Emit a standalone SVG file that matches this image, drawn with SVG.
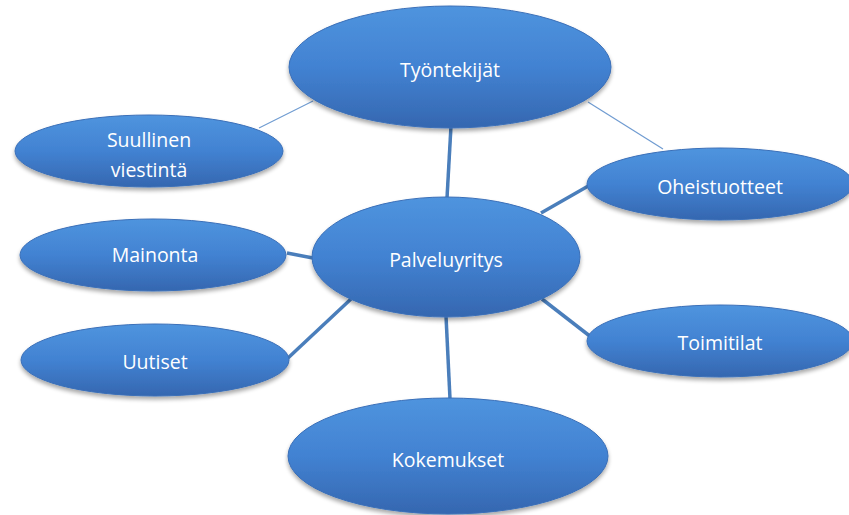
<svg xmlns="http://www.w3.org/2000/svg" width="849" height="515" viewBox="0 0 849 515">
<defs>
<linearGradient id="g" x1="0" y1="0" x2="0" y2="1">
<stop offset="0" stop-color="#4f94de"/>
<stop offset="0.5" stop-color="#4282d2"/>
<stop offset="1" stop-color="#3567b0"/>
</linearGradient>
<filter id="sh" x="-10%" y="-10%" width="120%" height="130%">
<feGaussianBlur in="SourceAlpha" stdDeviation="2"/>
<feOffset dx="0" dy="3" result="b"/>
<feComponentTransfer><feFuncA type="linear" slope="0.35"/></feComponentTransfer>
<feMerge><feMergeNode/><feMergeNode in="SourceGraphic"/></feMerge>
</filter>
</defs>
<style>
.n{fill:url(#g);stroke:#3a6fb8;stroke-width:1;filter:url(#sh)}
.t{fill:#ffffff;font-family:"Open Sans","Liberation Sans",sans-serif;font-size:19.5px;text-anchor:middle;dominant-baseline:central}
.thick{stroke:#4a7ebb;stroke-width:3.5;fill:none}
.thin{stroke:#6f9bd1;stroke-width:1.2;fill:none}
</style>
<rect width="849" height="515" fill="#ffffff"/>
<g id="connectors">
<line class="thin" x1="313" y1="101" x2="259" y2="128"/>
<line class="thin" x1="588" y1="102" x2="663" y2="149"/>
<line class="thick" x1="451" y1="126" x2="447" y2="198"/>
<line class="thick" x1="541" y1="213" x2="590" y2="185"/>
<line class="thick" x1="313" y1="258" x2="287" y2="253"/>
<line class="thick" x1="351" y1="299" x2="288" y2="358"/>
<line class="thick" x1="542" y1="299" x2="591" y2="337"/>
<line class="thick" x1="446" y1="316" x2="450" y2="399"/>
</g>
<g id="tyontekijat">
<ellipse class="n" cx="450" cy="67" rx="161" ry="61"/>
<text class="t" x="450" y="69">Työntekijät</text>
</g>
<g id="suullinen">
<ellipse class="n" cx="149" cy="151" rx="134" ry="36"/>
<text class="t" x="149" y="139">Suullinen</text>
<text class="t" x="149" y="169">viestintä</text>
</g>
<g id="oheistuotteet">
<ellipse class="n" cx="720" cy="184" rx="133" ry="36"/>
<text class="t" x="720" y="186">Oheistuotteet</text>
</g>
<g id="mainonta">
<ellipse class="n" cx="153" cy="255" rx="133" ry="36"/>
<text class="t" x="155" y="254">Mainonta</text>
</g>
<g id="palveluyritys">
<ellipse class="n" cx="446" cy="257" rx="134" ry="60"/>
<text class="t" x="446" y="259">Palveluyritys</text>
</g>
<g id="uutiset">
<ellipse class="n" cx="155" cy="360" rx="134" ry="36"/>
<text class="t" x="155" y="361">Uutiset</text>
</g>
<g id="toimitilat">
<ellipse class="n" cx="720" cy="341" rx="133" ry="36"/>
<text class="t" x="720" y="342">Toimitilat</text>
</g>
<g id="kokemukset">
<ellipse class="n" cx="448" cy="456" rx="160" ry="58"/>
<text class="t" x="448" y="459">Kokemukset</text>
</g>
</svg>
